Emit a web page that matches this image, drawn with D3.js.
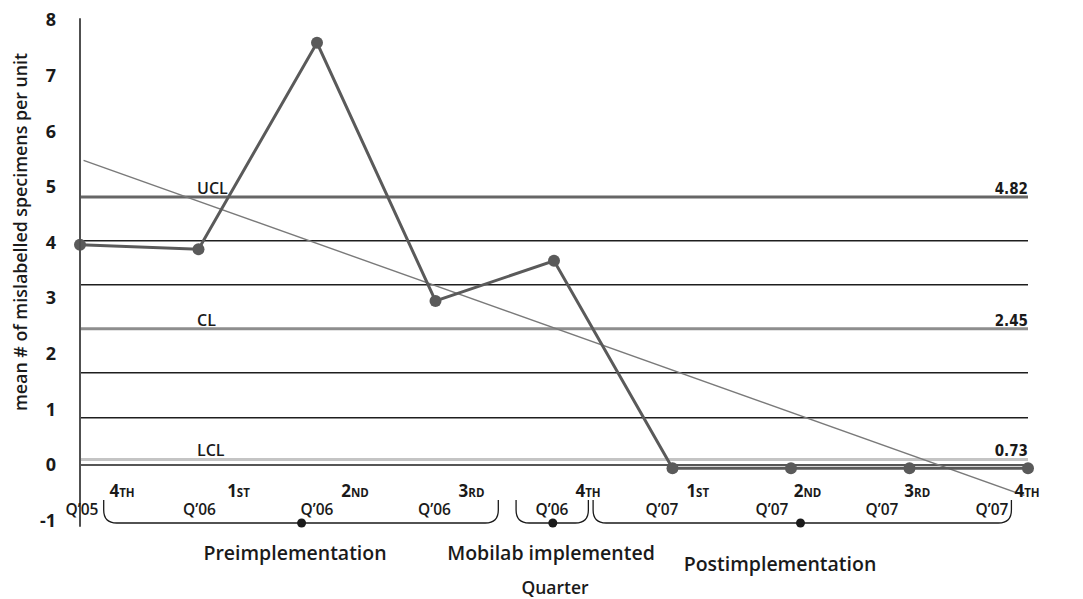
<!DOCTYPE html>
<html><head><meta charset="utf-8">
<script src="https://cdn.jsdelivr.net/npm/d3@7"></script>
<style>
body{margin:0;background:#fff;}
text{font-family:"Open Sans","Noto Sans",sans-serif;fill:#1a1a1a;}
</style></head>
<body><svg id="c" width="1083" height="599"></svg>
<script>
// ---- data ----
const ordinals = ["4TH","1ST","2ND","3RD","4TH","1ST","2ND","3RD","4TH"];
const years = ["Q\u201905","Q\u201906","Q\u201906","Q\u201906","Q\u201906","Q\u201907","Q\u201907","Q\u201907","Q\u201907"];
const values = [3.96, 3.88, 7.59, 2.95, 3.67, -0.06, -0.06, -0.06, -0.06];
const yTicks = [-1,0,1,2,3,4,5,6,7,8];
const controlNames = ["UCL","CL","LCL"];
const controlValues = [4.82, 2.45, 0.1];
const controlLabels = ["4.82","2.45","0.73"];
const sigmaValues = [4.03, 3.24, 1.66, 0.85, 0];
const trendEnds = [5.5, -0.57];
const periodNames = ["Preimplementation","Mobilab implemented","Postimplementation"];
const periodStart = [0.2, 3.68, 4.33];
const periodEnd = [3.53, 4.29, 7.86];
const periodMid = [1.87, 3.99, 6.08];

// ---- chart ----
const svg = d3.select("#c");
const x = d3.scaleLinear().domain([0,8]).range([80,1028]);
const y = d3.scaleLinear().domain([0,8]).range([465,20]);
const xQ = d3.scaleLinear().domain([0,4,8]).range([82,552,992]);
const xO = d3.scaleLinear().domain([0,4,8]).range([122,588,1027]);

// sigma / grid lines
svg.selectAll("line.sig").data(sigmaValues).join("line")
  .attr("x1",x(0)).attr("x2",x(8))
  .attr("y1",d=>y(d)).attr("y2",d=>y(d))
  .attr("stroke","#1e1e1e").attr("stroke-width",1.5);

// control lines
const ctrlColors = ["#666666","#8e8e8e","#c4c4c4"];
svg.selectAll("line.ctl").data(controlValues).join("line")
  .attr("x1",x(0)).attr("x2",x(8))
  .attr("y1",d=>y(d)).attr("y2",d=>y(d))
  .attr("stroke",(d,i)=>ctrlColors[i]).attr("stroke-width",3);

svg.selectAll("text.cn").data(controlNames).join("text")
  .attr("x",197).attr("y",(d,i)=>y(controlValues[i])-3)
  .attr("font-size",16).attr("font-weight",600).text(d=>d);
svg.selectAll("text.cv").data(controlLabels).join("text")
  .attr("x",x(8)).attr("y",(d,i)=>y(controlValues[i])-3)
  .attr("text-anchor","end")
  .style("font-family","'DejaVu Sans Condensed','Liberation Sans Narrow',sans-serif")
  .attr("font-size",15).attr("font-weight",700).text(d=>d);

// trend line
svg.append("line")
  .attr("x1",x(0.03)).attr("y1",y(trendEnds[0]+ (trendEnds[1]-trendEnds[0])*0.03/8))
  .attr("x2",x(7.97)).attr("y2",y(trendEnds[0]+ (trendEnds[1]-trendEnds[0])*7.97/8))
  .attr("stroke","#7a7a7a").attr("stroke-width",1.4);

// data line
const line = d3.line().x((d,i)=>x(i)).y(d=>y(d));
svg.append("path").datum(values).attr("d",line)
  .attr("fill","none").attr("stroke","#5a5a5a").attr("stroke-width",3);
svg.selectAll("circle.pt").data(values).join("circle")
  .attr("cx",(d,i)=>x(i)).attr("cy",d=>y(d)).attr("r",6).attr("fill","#5a5a5a");

// y axis line
svg.append("line").attr("x1",80).attr("x2",80).attr("y1",y(8.03)).attr("y2",y(-1.11))
  .attr("stroke","#505050").attr("stroke-width",2);

// y axis ticks
const ax = svg.append("g").attr("transform","translate(80,0)")
  .call(d3.axisLeft(y).tickValues(yTicks).tickSize(0).tickPadding(24).tickFormat(d=>String(d)));
ax.select(".domain").remove();
ax.selectAll("text").attr("font-size",18).attr("font-weight",700)
  .style("font-family","'Open Sans',sans-serif").attr("fill","#1a1a1a");

// y label
svg.append("text").attr("transform","translate(27,232) rotate(-90)")
  .attr("text-anchor","middle").attr("font-size",17.8).attr("font-weight",600)
  .text("mean # of mislabelled specimens per unit");

// quarter labels
const ord = svg.selectAll("text.ord").data(ordinals).join("text")
  .attr("x",(d,i)=>xO(i)).attr("y",497).attr("text-anchor","middle")
  .attr("font-weight",700);
ord.append("tspan").attr("font-size",17).text(d=>d[0]);
ord.append("tspan").attr("font-size",11.5).text(d=>d.slice(1));
svg.selectAll("text.yr").data(years).join("text")
  .attr("x",(d,i)=>xQ(i)).attr("y",515).attr("text-anchor","middle")
  .attr("font-size",15.5).attr("font-weight",600).text(d=>d);

// braces
const yTop = 500, yBot = 523, r = 13;
const brace = (a,b)=>`M${a},${yTop}V${yBot-r}Q${a},${yBot} ${a+r},${yBot}H${b-r}Q${b},${yBot} ${b},${yBot-r}V${yTop}`;
svg.selectAll("path.br").data(periodNames).join("path")
  .attr("d",(d,i)=>brace(x(periodStart[i]),x(periodEnd[i])))
  .attr("fill","none").attr("stroke","#1a1a1a").attr("stroke-width",1.3);
svg.selectAll("circle.bd").data(periodNames).join("circle")
  .attr("cx",(d,i)=>x(periodMid[i])).attr("cy",yBot).attr("r",4.5).attr("fill","#1a1a1a");

// period labels
const periodY = [560,560,571];
svg.selectAll("text.pn").data(periodNames).join("text")
  .attr("x",(d,i)=>[295,551,780][i]).attr("y",(d,i)=>periodY[i])
  .attr("text-anchor","middle").attr("font-size",19.5).attr("font-weight",600).text(d=>d);

svg.append("text").attr("x",555).attr("y",594).attr("text-anchor","middle")
  .attr("font-size",17.5).attr("font-weight",600).text("Quarter");
</script></body></html>
